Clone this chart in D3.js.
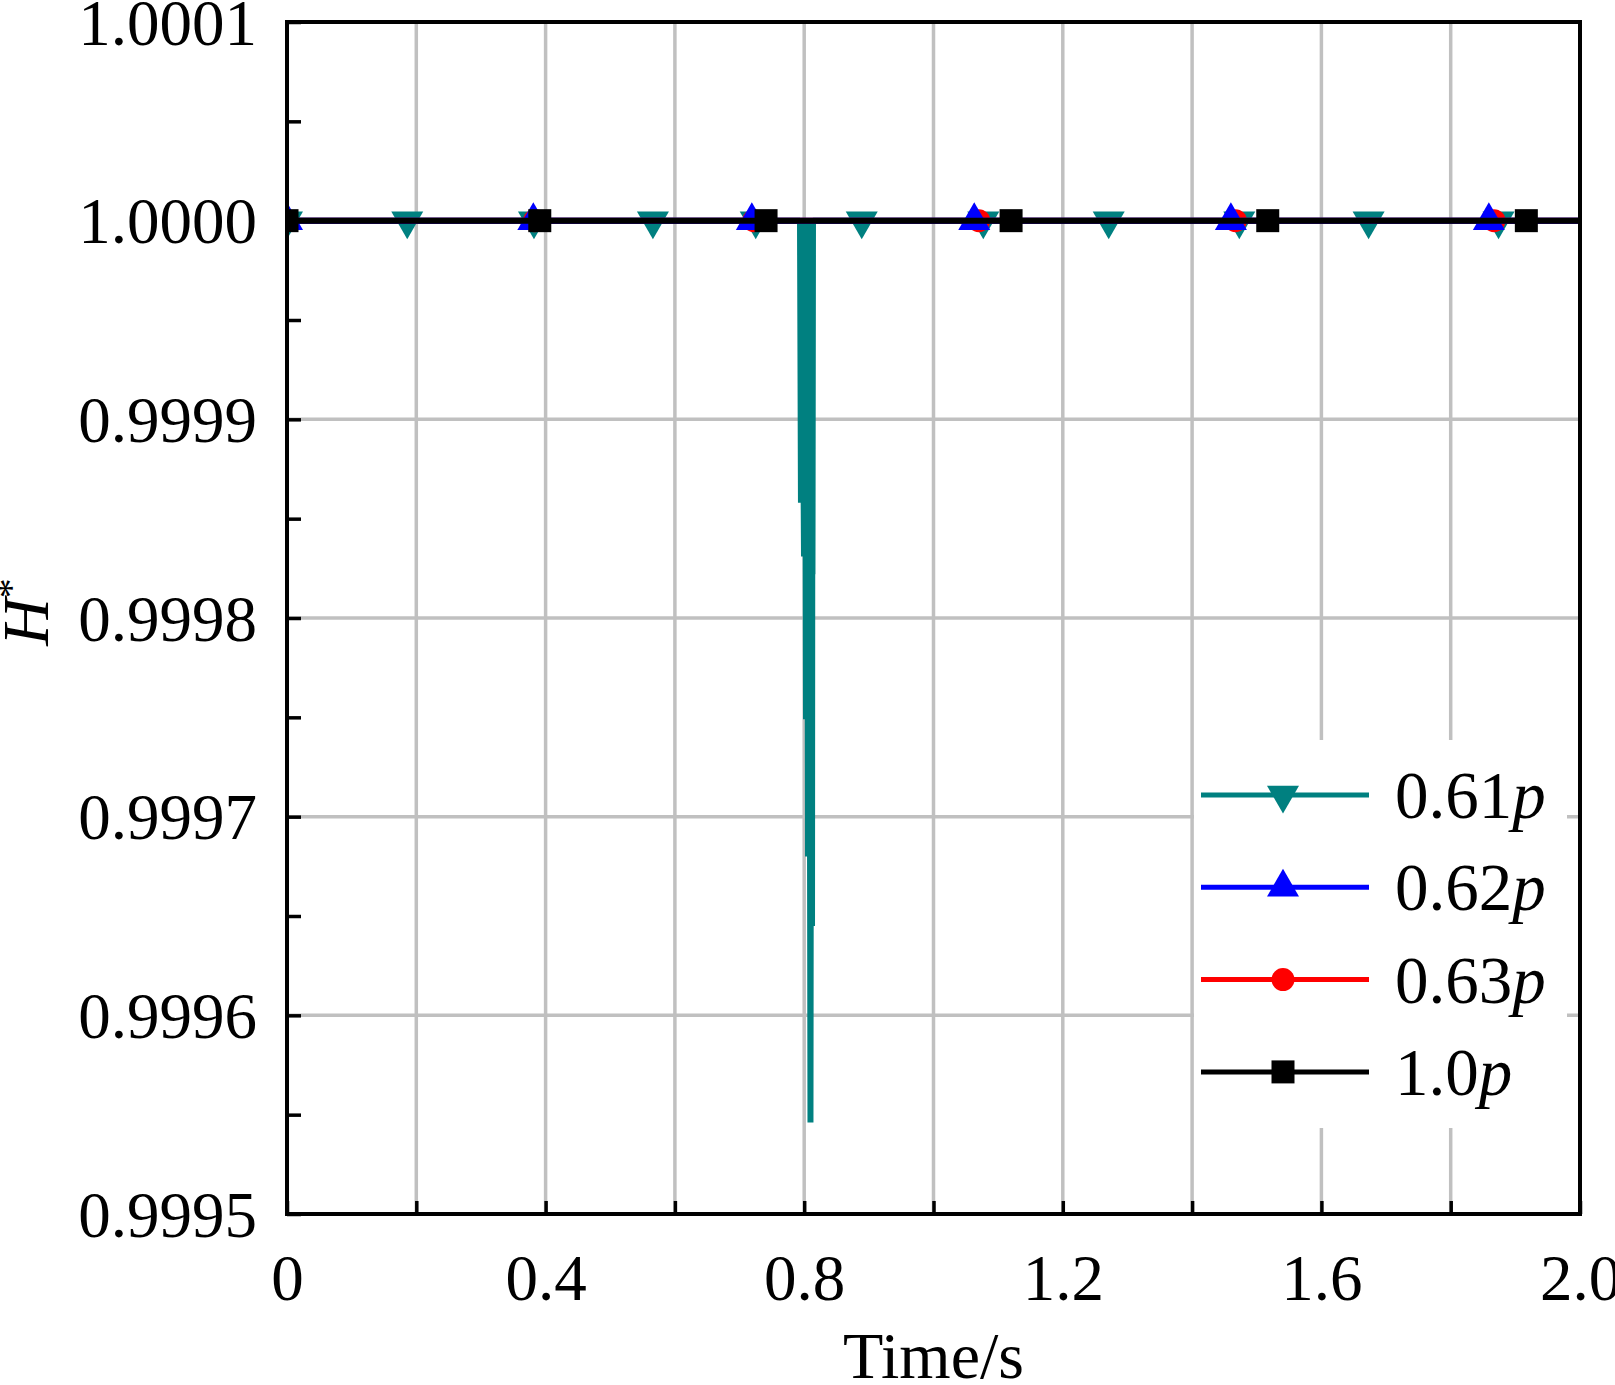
<!DOCTYPE html>
<meta charset="utf-8">
<title>H* vs time</title>
<head>
    <script src="https://d3js.org/d3.v7.min.js"></script>
</head>
<body style="margin: 0px; background: #fff">
<script>

    // series names / colours (legend order)
    var seriesNames = ["0.61", "0.62", "0.63", "1.0"];
    var seriesColors = ["#008080", "#0000ff", "#ff0000", "#000000"];

    // 0.61p line: flat at 1.0 with an oscillating drop near t = 0.8 s
    var t061 = [0, 0.7935, 0.7950, 0.7966, 0.7997, 0.8012, 0.8028, 0.8043, 0.8059, 0.8074, 0.8097, 0.8113, 0.8121, 0.8128, 0.8128, 0.8136, 2.0];
    var h061 = [1.0, 1.0, 0.999858, 1.0, 0.999831, 1.0, 0.999749, 1.0, 0.999680, 1.0, 0.999546, 1.0, 0.999645, 1.0, 0.999822, 1.0, 1.0];
    // the other three runs stay at 1.0
    var t062 = [0, 2.0], h062 = [1.0, 1.0];
    var t063 = [0, 2.0], h063 = [1.0, 1.0];
    var t100 = [0, 2.0], h100 = [1.0, 1.0];

    // marker positions
    var mk061 = [0, 0.186, 0.382, 0.566, 0.725, 0.889, 1.077, 1.271, 1.473, 1.673, 1.874];
    var mkh061 = [1, 1, 1, 1, 1, 1, 1, 1, 1, 1, 1];
    var mk062 = [0, 0.381, 0.719, 1.063, 1.460, 1.859];
    var mkh062 = [1, 1, 1, 1, 1, 1];
    var mk063 = [0, 0.383, 0.722, 1.070, 1.467, 1.867];
    var mkh063 = [1, 1, 1, 1, 1, 1];
    var mk100 = [0, 0.391, 0.741, 1.120, 1.517, 1.917];
    var mkh100 = [1, 1, 1, 1, 1, 1];

    var xTicks = [0, 0.2, 0.4, 0.6, 0.8, 1.0, 1.2, 1.4, 1.6, 1.8, 2.0];
    var xLabelVals = [0, 0.4, 0.8, 1.2, 1.6, 2.0];
    var xLabels = ["0", "0.4", "0.8", "1.2", "1.6", "2.0"];
    var yTicks = [0.9995, 0.99955, 0.9996, 0.99965, 0.9997, 0.99975, 0.9998, 0.99985, 0.9999, 0.99995, 1.0, 1.00005, 1.0001];
    var yLabelVals = [0.9995, 0.9996, 0.9997, 0.9998, 0.9999, 1.0, 1.0001];
    var yLabels = ["0.9995", "0.9996", "0.9997", "0.9998", "0.9999", "1.0000", "1.0001"];

    var width = 1615, height = 1385;
    var L = 287, R = 1580, T = 22, B = 1214;
    var font = "'Liberation Serif', 'Times New Roman', serif";

    var x = d3.scaleLinear().domain([0, 2]).range([L, R]);
    var y = d3.scaleLinear().domain([0.9995, 1.0001]).range([B, T]);

    var svg = d3.select("body").append("svg")
            .attr("width", width)
            .attr("height", height)
            .style("display", "block");

    svg.append("rect").attr("width", width).attr("height", height).attr("fill", "#fff");

    svg.append("clipPath").attr("id", "plotclip")
            .append("rect").attr("x", L).attr("y", T).attr("width", R - L).attr("height", B - T);

    // grid
    var grid = svg.append("g");
    grid.selectAll(".gx").data(xTicks.slice(1, -1)).enter().append("line")
            .attr("x1", d => x(d)).attr("x2", d => x(d)).attr("y1", T).attr("y2", B)
            .attr("stroke", "#c0c0c0").attr("stroke-width", 3.5);
    grid.selectAll(".gy").data(yLabelVals.slice(1, -1)).enter().append("line")
            .attr("y1", d => y(d)).attr("y2", d => y(d)).attr("x1", L).attr("x2", R)
            .attr("stroke", "#c0c0c0").attr("stroke-width", 3.5);

    // legend background hides the grid behind it
    var legX = 1194, legY = 740;
    svg.append("rect").attr("x", legX).attr("y", legY).attr("width", 373).attr("height", 388).attr("fill", "#fff");

    // ticks (inside)
    var xAx = svg.append("g").attr("transform", "translate(0," + B + ")")
            .call(d3.axisBottom(x).tickValues(xTicks).tickSize(-13).tickFormat(""));
    var yAx = svg.append("g").attr("transform", "translate(" + L + ",0)")
            .call(d3.axisLeft(y).tickValues(yTicks).tickSize(-14).tickFormat(""));
    [xAx, yAx].forEach(function (a) {
        a.select(".domain").remove();
        a.selectAll(".tick line").attr("stroke", "#000").attr("stroke-width", 3.5);
    });

    // tick labels
    var xLab = svg.append("g").attr("transform", "translate(0," + B + ")")
            .call(d3.axisBottom(x).tickValues(xLabelVals).tickSize(0)
                    .tickFormat((d, i) => xLabels[i]));
    xLab.select(".domain").remove();
    xLab.selectAll("text").attr("y", 86).attr("dy", null)
            .style("font-family", font).style("font-size", "65px").attr("fill", "#000");

    var yLab = svg.append("g").attr("transform", "translate(" + L + ",0)")
            .call(d3.axisLeft(y).tickValues(yLabelVals).tickSize(0).tickPadding(30)
                    .tickFormat((d, i) => yLabels[i]));
    yLab.select(".domain").remove();
    yLab.selectAll("text").attr("dy", "0.34em")
            .style("font-family", font).style("font-size", "65px").attr("fill", "#000");

    // data
    var plot = svg.append("g").attr("clip-path", "url(#plotclip)");
    var line = d3.line().x(d => x(d[0])).y(d => y(d[1]));

    var lines = [
        {t: t061, h: h061, c: seriesColors[0]},
        {t: t063, h: h063, c: seriesColors[2]},
        {t: t062, h: h062, c: seriesColors[1]},
        {t: t100, h: h100, c: seriesColors[3]}
    ];
    var tri = 32 * 32 * Math.sqrt(3) / 4;
    var symbols = [
        {t: mk061, h: mkh061, c: seriesColors[0], s: d3.symbol(d3.symbolTriangle, tri), rot: 180},
        {t: mk063, h: mkh063, c: seriesColors[2], s: d3.symbol(d3.symbolCircle, Math.PI * 11.5 * 11.5), rot: 0},
        {t: mk062, h: mkh062, c: seriesColors[1], s: d3.symbol(d3.symbolTriangle, tri), rot: 0},
        {t: mk100, h: mkh100, c: seriesColors[3], s: d3.symbol(d3.symbolSquare, 23 * 23), rot: 0}
    ];

    lines.forEach(function (ln, k) {
        var pts = ln.t.map((t, i) => [t, ln.h[i]]);
        var sym = symbols[k];
        plot.append("g").selectAll("path").data(sym.t).enter().append("path")
                .attr("d", sym.s)
                .attr("transform", (d, i) => "translate(" + x(d) + "," + y(sym.h[i]) + ") rotate(" + sym.rot + ")")
                .attr("fill", sym.c);
        plot.append("path").datum(pts).attr("d", line)
                .attr("fill", "none").attr("stroke", ln.c).attr("stroke-width", 6)
                .attr("stroke-linejoin", "miter").attr("stroke-miterlimit", 1);
    });

    // frame
    svg.append("rect").attr("x", L).attr("y", T).attr("width", R - L).attr("height", B - T)
            .attr("fill", "none").attr("stroke", "#000").attr("stroke-width", 4);

    // axis titles
    svg.append("text").attr("x", (L + R) / 2).attr("y", 1378).attr("text-anchor", "middle")
            .style("font-family", font).style("font-size", "66px").text("Time/s");

    var yt = svg.append("text").attr("transform", "translate(48,612) rotate(-90)")
            .attr("text-anchor", "middle")
            .style("font-family", font).style("font-size", "66px");
    yt.append("tspan").style("font-style", "italic").text("H");
    yt.append("tspan").attr("dy", "-24").style("font-size", "40px").text("*");

    // legend
    var legSym = [symbols[0], symbols[2], symbols[1], symbols[3]];
    seriesNames.forEach(function (name, k) {
        var ly = 795 + k * 92.3;
        var g = svg.append("g");
        g.append("line").attr("x1", 1201).attr("x2", 1369).attr("y1", ly).attr("y2", ly)
                .attr("stroke", seriesColors[k]).attr("stroke-width", 5);
        g.append("path").attr("d", legSym[k].s)
                .attr("transform", "translate(1283," + ly + ") rotate(" + legSym[k].rot + ")")
                .attr("fill", seriesColors[k]);
        var tx = g.append("text").attr("x", 1395).attr("y", ly + 23)
                .style("font-family", font).style("font-size", "67px");
        tx.append("tspan").text(name);
        tx.append("tspan").style("font-style", "italic").text("p");
    });

</script>
</body>
